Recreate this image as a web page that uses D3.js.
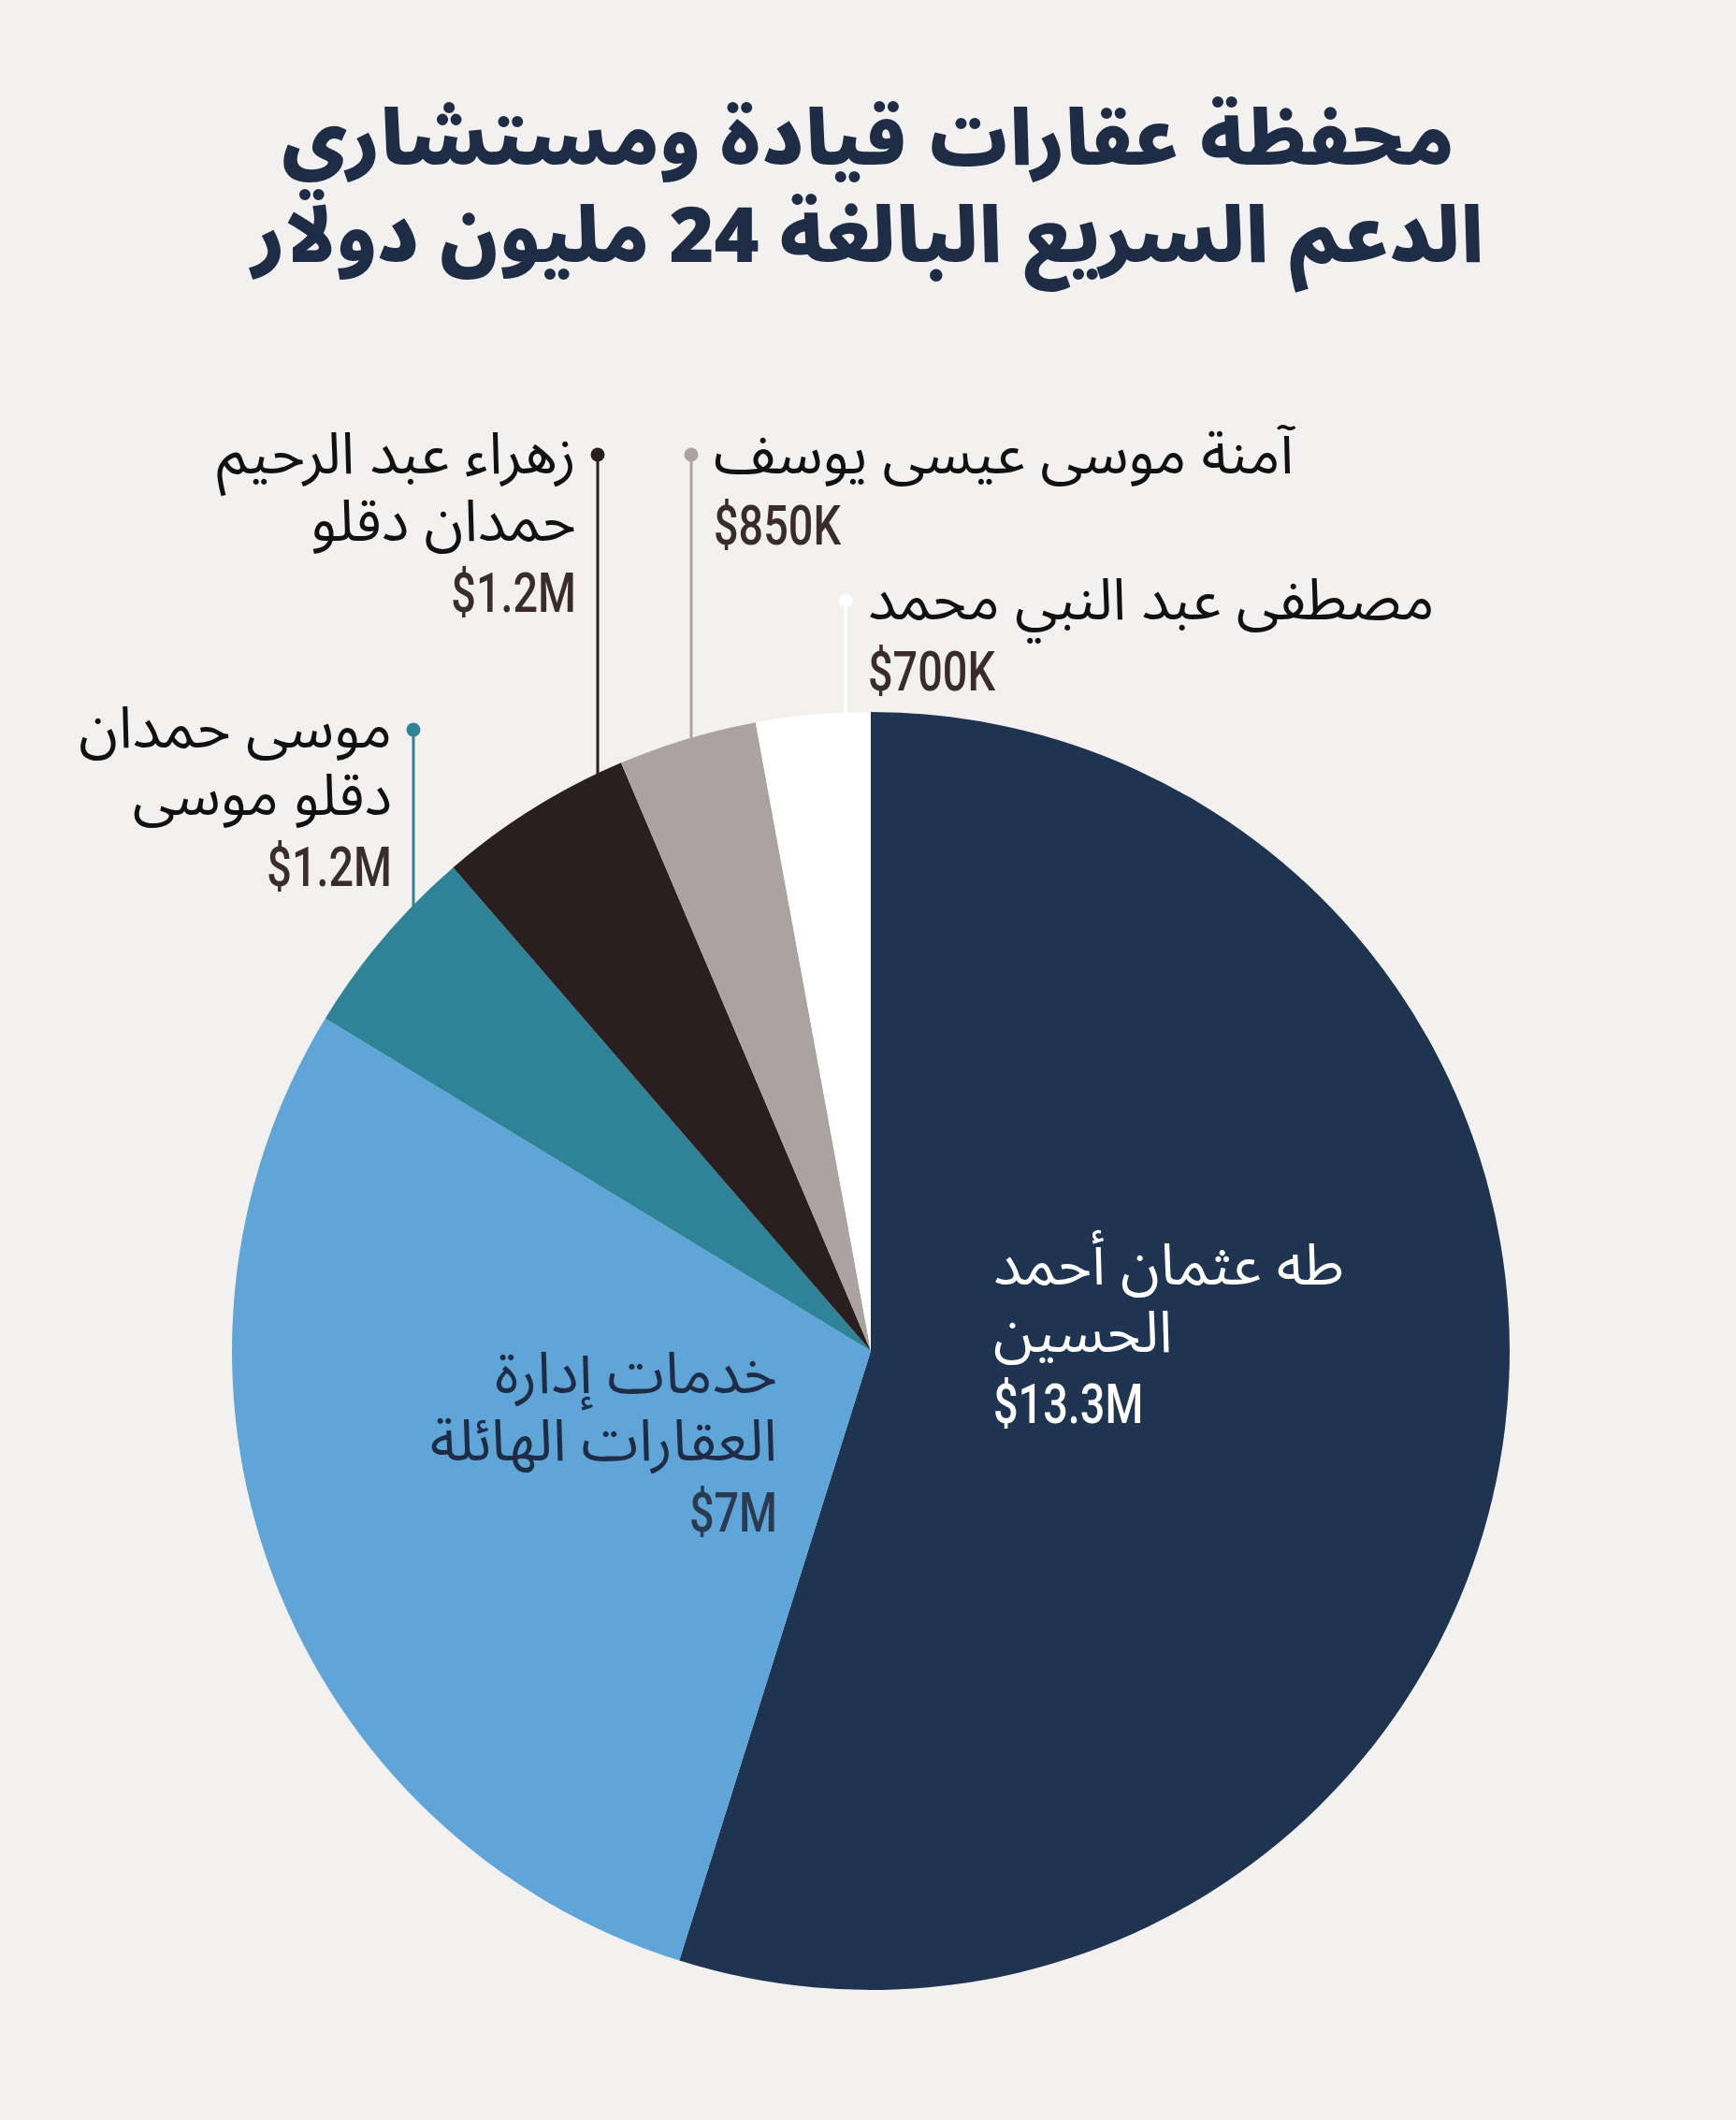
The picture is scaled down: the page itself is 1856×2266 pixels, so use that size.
<!DOCTYPE html>
<html lang="ar">
<head>
<meta charset="utf-8">
<script src="https://cdn.jsdelivr.net/npm/d3@7"></script>
<style>
  body { margin: 0; background: #f2f1f0; }
  svg { display: block; }
  text { font-family: "Noto Sans Arabic", "Noto Sans", "DejaVu Sans", sans-serif; }
  .val { font-family: "Roboto", "Liberation Sans", sans-serif; font-weight: 500; }
</style>
</head>
<body>
<svg id="chart"></svg>
<script>
// data
let titleLines = ["محفظة عقارات قيادة ومستشاري", "الدعم السريع البالغة 24 مليون دولار"];
let names = [
    "طه عثمان أحمد الحسين",
    "خدمات إدارة العقارات الهائلة",
    "موسى حمدان دقلو موسى",
    "زهراء عبد الرحيم حمدان دقلو",
    "آمنة موسى عيسى يوسف",
    "مصطفى عبد النبي محمد"
];
let nameLines = [
    ["طه عثمان أحمد", "الحسين"],
    ["خدمات إدارة", "العقارات الهائلة"],
    ["موسى حمدان", "دقلو موسى"],
    ["زهراء عبد الرحيم", "حمدان دقلو"],
    ["آمنة موسى عيسى يوسف"],
    ["مصطفى عبد النبي محمد"]
];
let values = [13.3, 7, 1.2, 1.2, 0.85, 0.7];
let valueLabels = ["$13.3M", "$7M", "$1.2M", "$1.2M", "$850K", "$700K"];
let colors = ["#1f3450", "#5fa5d8", "#2f8397", "#2a1f20", "#aca2a1", "#ffffff"];

let width = 1856, height = 2266;
let cx = 931, cy = 1444, radius = 683;

// label layout: x = anchor x, y = first baseline, anchor, dotX (leader line) or null
let labelPos = [
    {x: 1062, y: 1373, anchor: "start", dotX: null, fill: "#ffffff", valFill: "#ffffff"},
    {x: 831, y: 1489, anchor: "end", dotX: null, fill: "#1e2d45", valFill: "#2a3a50"},
    {x: 419, y: 799, anchor: "end", dotX: 442, dotY: 780, fill: "#111111", valFill: "#3a2c2c"},
    {x: 616, y: 506, anchor: "end", dotX: 639, dotY: 486, fill: "#111111", valFill: "#3a2c2c"},
    {x: 763, y: 506, anchor: "start", dotX: 739, dotY: 486, fill: "#111111", valFill: "#3a2c2c"},
    {x: 928, y: 662, anchor: "start", dotX: 904, dotY: 642, fill: "#111111", valFill: "#3a2c2c"}
];
let lineGap = 72;

let svg = d3.select("#chart")
    .attr("width", width)
    .attr("height", height);

svg.append("rect")
    .attr("width", width)
    .attr("height", height)
    .attr("fill", "#f2f1f0");

// title
let title = svg.append("text")
    .attr("direction", "rtl")
    .attr("text-anchor", "middle")
    .attr("font-size", 82)
    .attr("font-weight", 900)
    .attr("fill", "#1e2d45");
title.selectAll("tspan")
    .data(titleLines)
    .join("tspan")
    .attr("x", 928)
    .attr("y", (d, i) => 176 + i * 104)
    .text(d => d);

// pie
let pie = d3.pie().sort(null).value(d => d);
let arc = d3.arc().innerRadius(0).outerRadius(radius);
let arcs = pie(values);

let g = svg.append("g")
    .attr("transform", "translate(" + cx + "," + cy + ")");

g.selectAll("path")
    .data(arcs)
    .join("path")
    .attr("d", arc)
    .attr("fill", (d, i) => colors[i]);

// leader lines + dots for the small slices
for (let i = 0; i < arcs.length; i++) {
    let p = labelPos[i];
    if (p.dotX === null) continue;
    let dx = p.dotX - cx;
    let edgeY = cy - Math.sqrt(radius * radius - dx * dx);
    svg.append("line")
        .attr("x1", p.dotX).attr("x2", p.dotX)
        .attr("y1", p.dotY).attr("y2", edgeY + 2)
        .attr("stroke", colors[i])
        .attr("stroke-width", 3);
    svg.append("circle")
        .attr("cx", p.dotX).attr("cy", p.dotY)
        .attr("r", 7.5)
        .attr("fill", colors[i]);
}

// labels
for (let i = 0; i < arcs.length; i++) {
    let p = labelPos[i];
    let t = svg.append("g");
    t.append("text")
        .attr("text-anchor", p.anchor)
        .attr("font-size", 62)
        .attr("fill", p.fill)
        .selectAll("tspan")
        .data(nameLines[i])
        .join("tspan")
        .attr("x", p.x)
        .attr("y", (d, k) => p.y + k * lineGap)
        .text(d => d);
    // condensed look for the amounts
    t.append("text")
        .attr("class", "val")
        .attr("transform", "translate(" + p.x + "," + (p.y + nameLines[i].length * lineGap + 4) + ") scale(0.78,1)")
        .attr("text-anchor", p.anchor)
        .attr("font-size", 60)
        .attr("fill", p.valFill)
        .text(valueLabels[i]);
}
</script>
</body>
</html>
